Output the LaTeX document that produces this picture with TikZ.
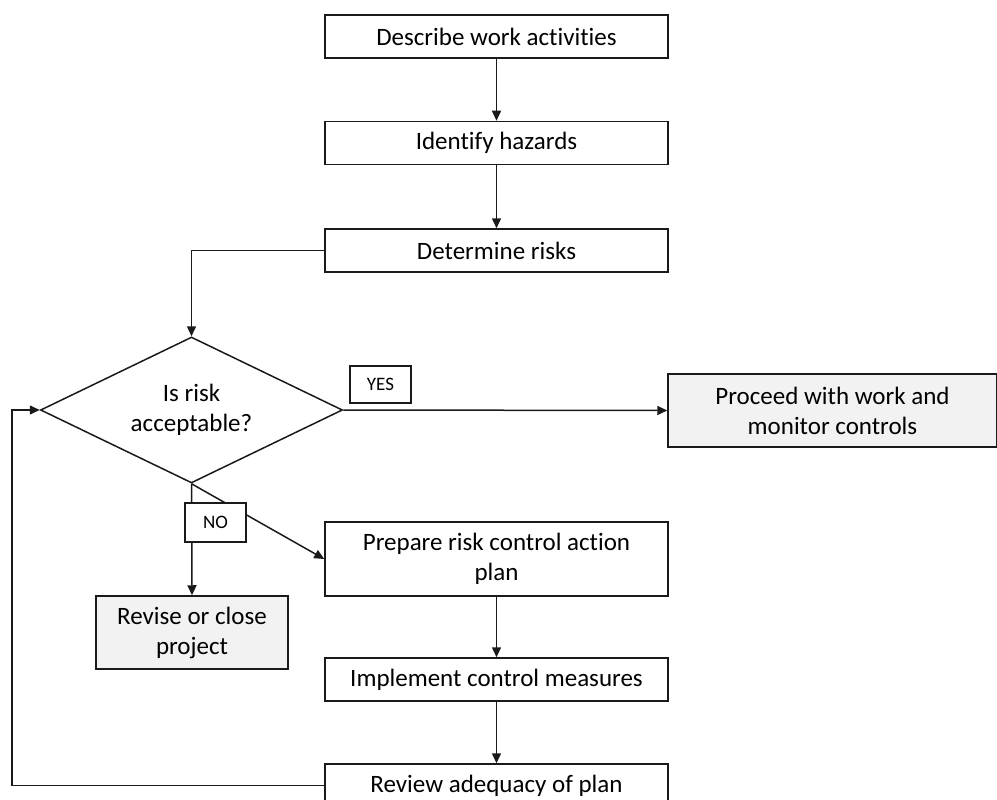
\documentclass[tikz,border=0pt]{standalone}
\usepackage{fontspec}
\setmainfont{Carlito}[Ligatures={NoCommon}]
\usetikzlibrary{arrows.meta,shapes.geometric}
\definecolor{boxgray}{HTML}{F2F2F2}
\definecolor{lin}{HTML}{1A1A1A}
\begin{document}
\begin{tikzpicture}[x=1pt,y=-1pt,
  box/.style={draw=lin,line width=1.5pt,fill=white,minimum width=343pt,minimum height=43pt,inner sep=0pt,align=center,font=\fontsize{25}{30}\selectfont,text=black},
  graybox/.style={box,fill=boxgray},
  lbl/.style={draw=lin,line width=1.3pt,fill=white,inner sep=0pt,font=\fontsize{19}{22}\selectfont,text=black},
  conn/.style={draw=lin,line width=1.5pt},
  arr/.style={conn,-{Triangle[length=10pt,width=9pt]}}]
\useasboundingbox (0,0) rectangle (997,800);
\clip (0,0) rectangle (997,800);
\node[box] (b1) at (496.5,36.5) {Describe work activities};
\node[box] (b2) at (496.5,143) {Identify hazards};
\node[box] (b3) at (496.5,250.5) {Determine risks};
\node[draw=lin,line width=1.5pt,shape=diamond,aspect=2.07,minimum width=302pt,minimum height=146pt,inner sep=0pt,align=center,font=\fontsize{25}{30}\selectfont,text=black] (dia) at (191.5,410) {Is risk\\acceptable?};
\node[graybox,minimum width=329pt,minimum height=73pt] (proc) at (832.5,410.5) {Proceed with work and\\monitor controls};
\node[graybox,minimum width=192pt,minimum height=73pt] (rev) at (192,632.5) {Revise or close\\project};
\node[box,minimum height=74pt] (prep) at (496.5,559) {Prepare risk control action\\plan};
\node[box] (impl) at (496.5,679.5) {Implement control measures};
\node[box] (review) at (496.5,785.5) {Review adequacy of plan};
\coordinate (fb) at (12,0);
\draw[arr] (b1.south) -- (b2.north);
\draw[arr] (b2.south) -- (b3.north);
\draw[arr] (b3.west) -| (dia.north);
\draw[arr] (dia.east) -- (proc.west);
\draw[arr] (dia.south) -- (rev.north);
\draw[arr] (dia.south) -- (prep.west);
\draw[arr] (prep.south) -- (impl.north);
\draw[arr] (impl.south) -- (review.north);
\draw[arr] (review.west) -- (review.west -| fb) |- (dia.west);
\node[lbl,minimum width=61pt,minimum height=37pt] (yes) at (380.5,384.5) {YES};
\node[lbl,minimum width=61pt,minimum height=39pt] (no) at (215.5,522.5) {NO};
\end{tikzpicture}
\end{document}
